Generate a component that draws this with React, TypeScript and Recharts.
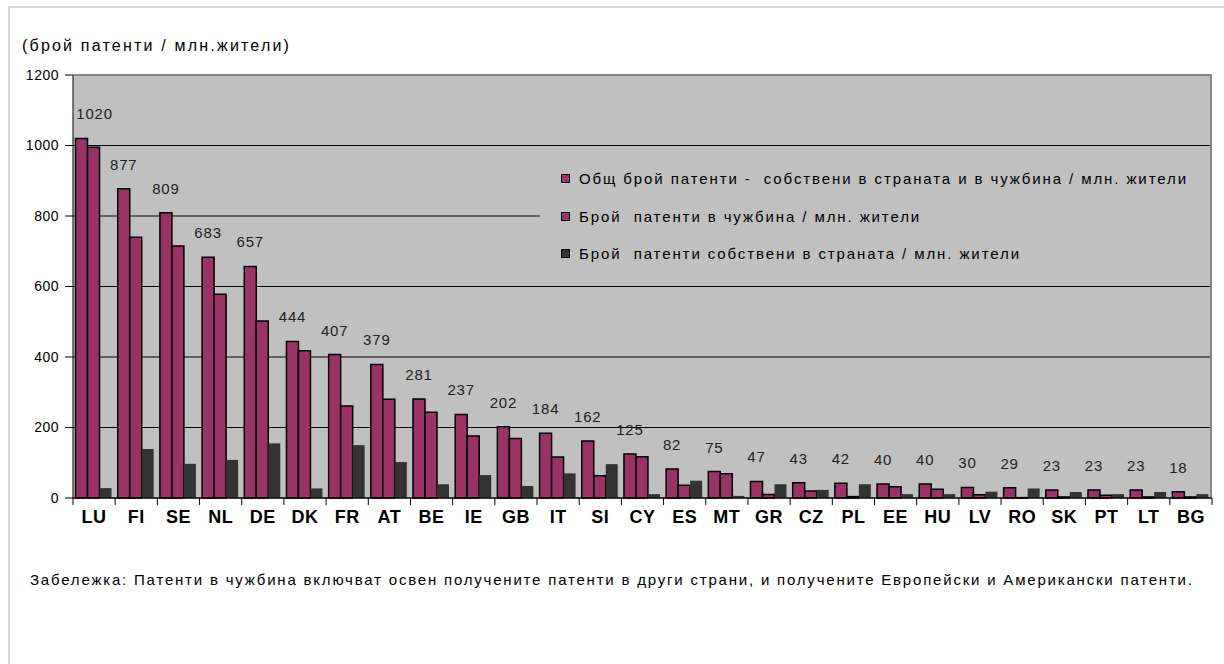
import { BarChart, Bar, XAxis, YAxis, CartesianGrid, Legend, LabelList } from 'recharts';

const countries = ['LU', 'FI', 'SE', 'NL', 'DE', 'DK', 'FR', 'AT', 'BE', 'IE', 'GB', 'IT', 'SI', 'CY', 'ES', 'MT', 'GR', 'CZ', 'PL', 'EE', 'HU', 'LV', 'RO', 'SK', 'PT', 'LT', 'BG'];
const totalPatents = [1020, 877, 809, 683, 657, 444, 407, 379, 281, 237, 202, 184, 162, 125, 82, 75, 47, 43, 42, 40, 40, 30, 29, 23, 23, 23, 18];
const abroadPatents = [995, 740, 715, 578, 502, 418, 261, 280, 243, 176, 169, 116, 63, 117, 36, 69, 10, 20, 4, 32, 25, 9, 1, 3, 8, 3, 3];
const domesticPatents = [28, 139, 97, 108, 155, 27, 150, 102, 39, 65, 34, 70, 96, 11, 49, 6, 39, 23, 39, 11, 11, 18, 27, 17, 11, 17, 11];
const yTicks = [0, 200, 400, 600, 800, 1000, 1200];

const seriesNames = {
  total: 'Общ брой патенти -  собствени в страната и в чужбина / млн. жители',
  abroad: 'Брой  патенти в чужбина / млн. жители',
  domestic: 'Брой  патенти собствени в страната / млн. жители',
};
const seriesOrder = ['total', 'abroad', 'domestic'];

const data = countries.map((c, i) => ({
  country: c,
  total: totalPatents[i],
  abroad: abroadPatents[i],
  domestic: domesticPatents[i],
}));

const W = 1224;
const PLOT_LEFT = 73;
const PLOT_RIGHT = 12;
const PLOT_TOP = 75;
const PLOT_BOTTOM = 498;
const step = (W - PLOT_LEFT - PLOT_RIGHT) / countries.length;
const font = 'Arial, "Liberation Sans", sans-serif';

// Excel-style x tick: tick marks sit between categories
const CountryTick = (props: any) => {
  const { x, y, payload, index } = props;
  const isLast = index === countries.length - 1;
  return (
    <g>
      <line x1={x - step / 2} x2={x - step / 2} y1={y} y2={y + 7} stroke="#000" />
      {isLast && <line x1={x + step / 2} x2={x + step / 2} y1={y} y2={y + 7} stroke="#000" />}
      <text x={x} y={y + 25} textAnchor="middle" fontFamily={font} fontWeight="bold" fontSize={18} letterSpacing={0.5} fill="#000">
        {payload.value}
      </text>
    </g>
  );
};

// value label above the total bar, kept inside the plot like Excel does
const TotalLabel = (props: any) => {
  const { x, y, width, value } = props;
  const text = String(value);
  const halfW = text.length * 4.9;
  const cx = Math.max(x + width / 2, PLOT_LEFT + halfW + 2);
  return (
    <text x={cx} y={y - 19} textAnchor="middle" fill="#222" fontSize={15} fontFamily={font} letterSpacing={0.8}>
      {text}
    </text>
  );
};

const LegendBox = (props: any) => {
  const items = [...(props.payload || [])].sort(
    (a: any, b: any) => seriesOrder.indexOf(a.dataKey) - seriesOrder.indexOf(b.dataKey)
  );
  return (
    <div style={{ background: '#C0C0C0', width: 672, height: 130, paddingTop: 8, boxSizing: 'border-box' }}>
      {items.map((entry: any) => (
        <div key={entry.dataKey} style={{ display: 'flex', alignItems: 'center', height: 37.5, paddingLeft: 21 }}>
          <span style={{ display: 'inline-block', width: 7, height: 7, background: entry.color, border: '1px solid #000', marginRight: 9 }} />
          <span style={{ fontFamily: font, fontSize: 15, color: '#000', letterSpacing: 1.9, whiteSpace: 'pre' }}>{entry.value}</span>
        </div>
      ))}
    </div>
  );
};

export default function App() {
  return (
    <div style={{ position: 'absolute', left: 0, top: 0, width: W, height: 664, background: '#fff', fontFamily: font }}>
      <div style={{ position: 'absolute', left: 8, top: 6, right: 0, bottom: 0, borderTop: '2px solid #d8d8d8', borderLeft: '2px solid #d8d8d8' }} />
      <div style={{ position: 'absolute', left: 22, top: 37, fontSize: 16, color: '#000', letterSpacing: 2.2, whiteSpace: 'nowrap' }}>
        (брой патенти / млн.жители)
      </div>
      <BarChart
        width={W}
        height={540}
        data={data}
        margin={{ top: PLOT_TOP, right: PLOT_RIGHT, left: 0, bottom: 12 }}
        barGap={0}
        barCategoryGap="6%"
        style={{ position: 'absolute', left: 0, top: 0 }}
      >
        <CartesianGrid vertical={false} stroke="#000" fill="#C0C0C0" />
        <XAxis
          dataKey="country"
          interval={0}
          tickLine={false}
          tickSize={0}
          tickMargin={0}
          height={30}
          axisLine={{ stroke: '#000' }}
          tick={<CountryTick />}
        />
        <YAxis
          width={PLOT_LEFT}
          domain={[0, 1200]}
          ticks={yTicks}
          interval={0}
          tickSize={8}
          tickMargin={6}
          axisLine={{ stroke: '#000' }}
          tickLine={{ stroke: '#000' }}
          tick={{ fill: '#000', fontSize: 14, fontFamily: font, letterSpacing: 0.5 }}
        />
        <Legend
          layout="vertical"
          align="center"
          verticalAlign="middle"
          content={<LegendBox />}
          wrapperStyle={{ position: 'absolute', left: 540, top: 152, width: 672, height: 130 }}
        />
        <Bar dataKey="total" name={seriesNames.total} fill="#993366" stroke="#000" strokeWidth={1.5} isAnimationActive={false}>
          <LabelList dataKey="total" content={<TotalLabel />} />
        </Bar>
        <Bar dataKey="abroad" name={seriesNames.abroad} fill="#993366" stroke="#000" strokeWidth={1.5} isAnimationActive={false} />
        <Bar dataKey="domestic" name={seriesNames.domestic} fill="#333333" isAnimationActive={false} />
      </BarChart>
      {/* grey plot frame on the top and right, as in the original */}
      <div
        style={{
          position: 'absolute',
          left: PLOT_LEFT,
          top: PLOT_TOP - 1,
          width: W - PLOT_LEFT - PLOT_RIGHT,
          height: PLOT_BOTTOM - PLOT_TOP,
          borderTop: '2px solid #888',
          borderRight: '2px solid #888',
          boxSizing: 'border-box',
          pointerEvents: 'none',
        }}
      />
      <div style={{ position: 'absolute', left: 30, top: 571, fontSize: 15, color: '#000', letterSpacing: 1.8, whiteSpace: 'nowrap' }}>
        Забележка: Патенти в чужбина включват освен получените патенти в други страни, и получените Европейски и Американски патенти.
      </div>
    </div>
  );
}
